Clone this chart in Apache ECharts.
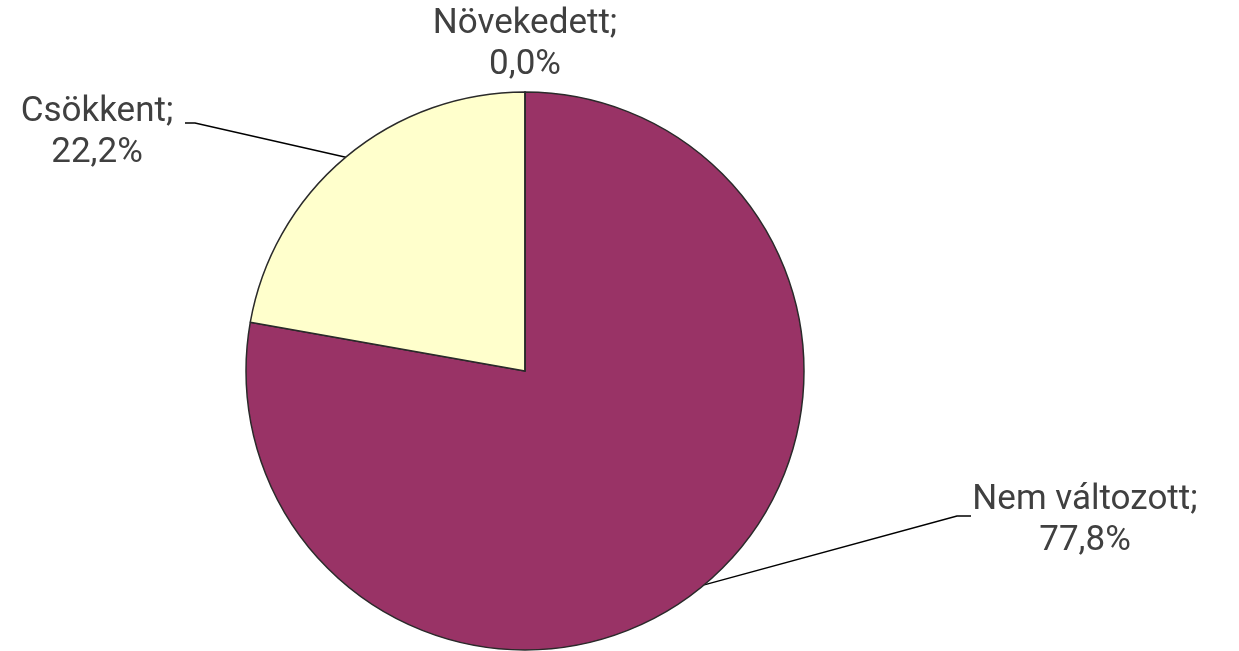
<!DOCTYPE html>
<html>
<head>
<meta charset="utf-8">
<script src="https://cdn.jsdelivr.net/npm/echarts@6/dist/echarts.min.js"></script>
<style>
html, body { margin: 0; padding: 0; background: #fff; }
#main { width: 1239px; height: 651px; }
</style>
</head>
<body>
<div id="main"></div>
<script>
var categories = ['Nem változott', 'Csökkent', 'Növekedett'];
var values = [77.8, 22.2, 0.0];
var colors = ['#993366', '#FFFFCC', '#9999FF'];

// label positions (block centre) and leader knee, per slice
var labelPos = [
    { x: 1085, y: 521, knee: [957, 516], end: [971, 516] },
    { x: 97, y: 133, knee: [195, 123], end: [185, 123] },
    { x: 525, y: 45 }
];

var myChart = echarts.init(document.getElementById('main'));

var data = categories.map(function (name, i) {
    return {
        name: name,
        value: values[i],
        itemStyle: { color: colors[i] },
        labelLine: { show: values[i] > 0 }
    };
});

option = {
    animation: false,
    series: [
        {
            type: 'pie',
            center: [525, 371],
            radius: [0, 279],
            startAngle: 90,
            clockwise: true,
            avoidLabelOverlap: false,
            itemStyle: {
                borderColor: '#2a2a2a',
                borderWidth: 1.5
            },
            label: {
                show: true,
                position: 'outside',
                fontFamily: 'Roboto',
                fontSize: 35,
                lineHeight: 41,
                color: '#404040',
                align: 'center',
                formatter: function (p) {
                    return p.name + ';\n' + p.value.toFixed(1).replace('.', ',') + '%';
                }
            },
            labelLine: {
                show: true,
                lineStyle: { color: '#000', width: 1.5 }
            },
            labelLayout: function (params) {
                var lp = labelPos[params.dataIndex];
                var res = { x: lp.x, y: lp.y, align: 'center', verticalAlign: 'middle' };
                if (lp.knee && params.labelLinePoints) {
                    res.labelLinePoints = [params.labelLinePoints[0], lp.knee, lp.end];
                }
                return res;
            },
            data: data
        }
    ]
};
myChart.setOption(option);
</script>
</body>
</html>
